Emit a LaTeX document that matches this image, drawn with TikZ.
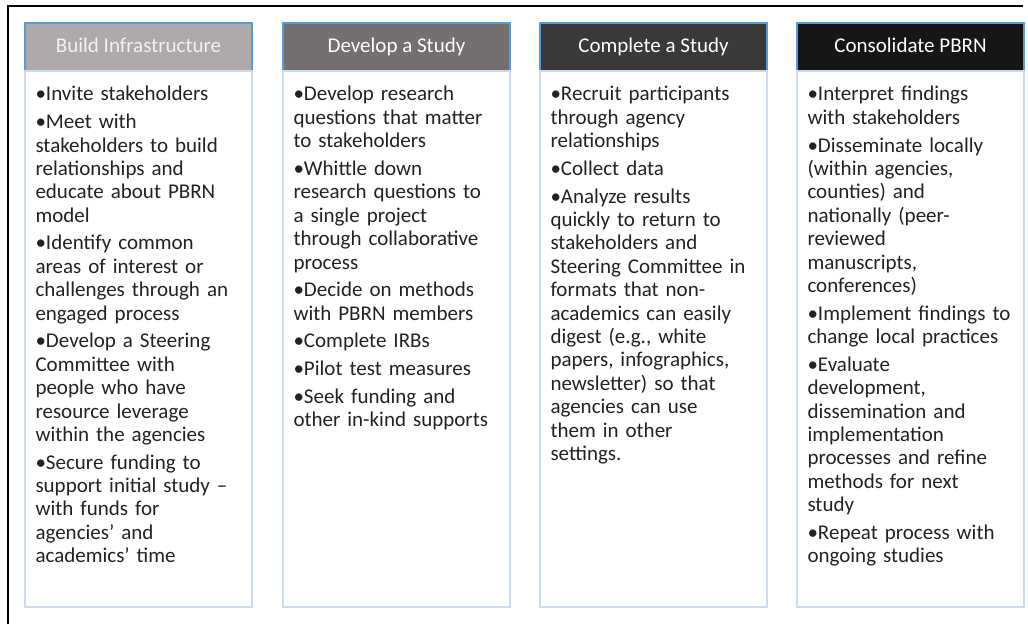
\documentclass[tikz,border=0pt]{standalone}
\usepackage{fontspec}
\setmainfont{Carlito}
\usepackage{tikz}
\usetikzlibrary{positioning}

\definecolor{headblue}{HTML}{5B9BD5}
\definecolor{paleblue}{HTML}{CCDAEE}
\definecolor{stepA}{HTML}{AEAAAA}
\definecolor{stepB}{HTML}{747070}
\definecolor{stepC}{HTML}{3B3838}
\definecolor{stepD}{HTML}{161616}
\definecolor{bodyink}{HTML}{222222}

\newcommand{\pitem}{\par\hangindent=10.5pt\hangafter=1\noindent\makebox[10.5pt][l]{\textbullet}\strut}

\begin{document}
\begin{tikzpicture}[x=1pt,y=-1pt,
  header/.style={draw=headblue, line width=1.5pt, minimum width=227pt, minimum height=48pt,
    inner sep=0pt, outer sep=0pt, text height=15pt, text depth=4pt,
    text=white, font=\fontsize{21}{24}\selectfont},
  panel/.style={draw=paleblue, line width=2pt, minimum width=227pt, minimum height=536pt,
    inner sep=0pt, outer sep=0pt},
  itemtext/.style={anchor=north west, inner sep=0pt, text width=208pt, align=left,
    text=bodyink, font=\fontsize{21}{23.4}\selectfont,
    execute at begin node=\setlength{\parskip}{4.3pt}}]
\useasboundingbox (0,0) rectangle (1028,624);

\draw[line width=2.5pt] (8,624) -- (8,6) -- (1023,6);

\node[header, fill=stepA, text=black!5] (h1) at (138.5,47) {Build Infrastructure};
\node[header, fill=stepB] (h2) at (396.5,47) {Develop a Study};
\node[header, fill=stepC] (h3) at (653.5,47) {Complete a Study};
\node[header, fill=stepD] (h4) at (910.5,47) {Consolidate PBRN};

\node[panel, below=0pt of h1] (b1) {};
\node[panel, below=0pt of h2] (b2) {};
\node[panel, below=0pt of h3] (b3) {};
\node[panel, below=0pt of h4] (b4) {};

\node[itemtext] (t1) at ([xshift=10.3pt,yshift=-2pt]b1.north west) {%
\pitem Invite stakeholders
\pitem Meet with\\stakeholders to build\\relationships and\\educate about PBRN\\model
\pitem Identify common\\areas of interest or\\challenges through an\\engaged process
\pitem Develop a Steering\\Committee with\\people who have\\resource leverage\\within the agencies
\pitem Secure funding to\\support initial study –\\with funds for\\agencies’ and\\academics’ time\par};

\node[itemtext] (t2) at ([xshift=10.3pt,yshift=-2pt]b2.north west) {%
\pitem Develop research\\questions that matter\\to stakeholders
\pitem Whittle down\\research questions to\\a single project\\through collaborative\\process
\pitem Decide on methods\\with PBRN members
\pitem Complete IRBs
\pitem Pilot test measures
\pitem Seek funding and\\other in-kind supports\par};

\node[itemtext] (t3) at ([xshift=10.3pt,yshift=-2pt]b3.north west) {%
\pitem Recruit participants\\through agency\\relationships
\pitem Collect data
\pitem Analyze results\\quickly to return to\\stakeholders and\\Steering Committee in\\formats that non-\\academics can easily\\digest (e.g., white\\papers, infographics,\\newsletter) so that\\agencies can use\\them in other\\settings.\par};

\node[itemtext] (t4) at ([xshift=10.3pt,yshift=-2pt]b4.north west) {%
\pitem Interpret findings\\with stakeholders
\pitem Disseminate locally\\(within agencies,\\counties) and\\nationally (peer-\\reviewed\\manuscripts,\\conferences)
\pitem Implement findings to\\change local practices
\pitem Evaluate\\development,\\dissemination and\\implementation\\processes and refine\\methods for next\\study
\pitem Repeat process with\\ongoing studies\par};
\end{tikzpicture}
\end{document}
